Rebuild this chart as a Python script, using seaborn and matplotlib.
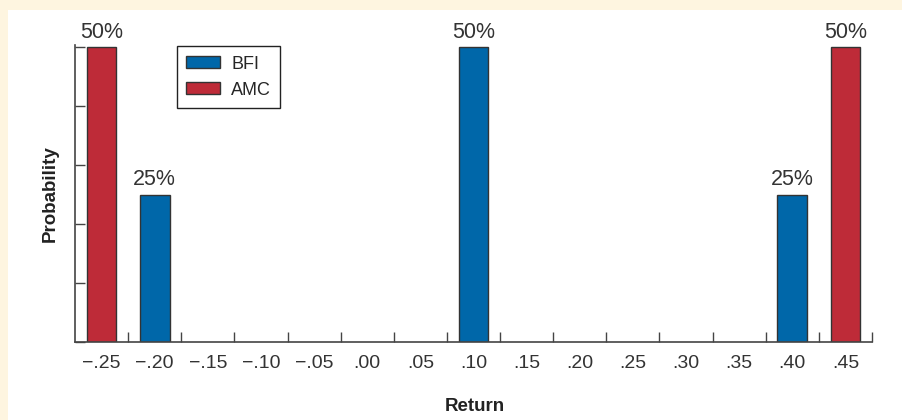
import pandas as pd
import matplotlib
matplotlib.use("Agg")
import matplotlib.pyplot as plt
import seaborn as sns
from matplotlib.patches import Rectangle

# ── Data ──────────────────────────────────────────────────────────────────────

return_labels = ["\u2212.25", "\u2212.20", "\u2212.15", "\u2212.10", "\u2212.05", ".00", ".05",
                 ".10", ".15", ".20", ".25", ".30", ".35", ".40", ".45"]

bfi_returns = ["\u2212.20", ".10", ".40"]
bfi_probs   = [0.25, 0.50, 0.25]

amc_returns = ["\u2212.25", ".45"]
amc_probs   = [0.50, 0.50]

stocks = ["BFI", "AMC"]
colors = {"BFI": "#0067A9", "AMC": "#BE2B38"}

df = pd.DataFrame({
    "Return":      bfi_returns + amc_returns,
    "Probability": bfi_probs + amc_probs,
    "Stock":       ["BFI"] * len(bfi_returns) + ["AMC"] * len(amc_returns),
})

# ── Chart ─────────────────────────────────────────────────────────────────────

sns.set_style("white")
plt.rcParams["font.family"] = ["Liberation Sans", "DejaVu Sans"]

fig = plt.figure(figsize=(9.03, 4.20), dpi=100)
fig.patch.set_facecolor("#FEF5E0")
fig.patches.append(Rectangle((8 / 903, 0), 1, 410 / 420, transform=fig.transFigure,
                             facecolor="white", edgecolor="none", zorder=-1))

ax = fig.add_axes([75 / 903, 78 / 420, 797 / 903, 297 / 420])
ax.set_facecolor("white")

sns.barplot(data=df, x="Return", y="Probability", hue="Stock", order=return_labels,
            hue_order=stocks, palette=colors, saturation=1, dodge=False, width=0.56,
            edgecolor="#333333", linewidth=1, ax=ax)

for cont in ax.containers:
    ax.bar_label(cont, labels=[f"{b.get_height():.0%}" for b in cont],
                 padding=3, fontsize=15.5, color="#333333")

ax.set_xlim(-0.5, len(return_labels) - 0.5)
ax.set_ylim(0, 0.5034)

# boundary ticks (minor) point inward, category labels without ticks
ax.set_xticks(range(len(return_labels)))
ax.set_xticklabels(return_labels)
ax.set_xticks([i + 0.5 for i in range(len(return_labels))], minor=True)
ax.tick_params(axis="x", which="both", bottom=True)
ax.tick_params(axis="x", which="major", length=0, pad=9, labelsize=14, labelcolor="#333333")
ax.tick_params(axis="x", which="minor", direction="in", length=7, width=1, color="#444444")

ax.set_yticks([0, 0.1, 0.2, 0.3, 0.4, 0.5])
ax.set_yticklabels([])
ax.tick_params(axis="y", direction="in", length=7, width=1, color="#444444", left=True)

for side in ["top", "right"]:
    ax.spines[side].set_visible(False)
for side in ["left", "bottom"]:
    ax.spines[side].set_color("#444444")
    ax.spines[side].set_linewidth(1.2)

ax.set_xlabel("Return", fontsize=13.5, fontweight="bold", color="#222222")
ax.set_ylabel("Probability", fontsize=13.5, fontweight="bold", color="#222222")
ax.xaxis.set_label_coords(0.502, -0.19)
ax.yaxis.set_label_coords(-0.021, 0.5)

ax.legend(loc="upper left", bbox_to_anchor=(0.128, 0.995), fontsize=13,
          frameon=True, fancybox=False, edgecolor="#222222", framealpha=1,
          handlelength=1.9, handleheight=0.6, borderpad=0.5, labelspacing=0.5,
          handletextpad=0.6, borderaxespad=0)
ax.get_legend().get_frame().set_linewidth(1)

plt.savefig("out.png", dpi=100, facecolor=fig.get_facecolor())
plt.close()
